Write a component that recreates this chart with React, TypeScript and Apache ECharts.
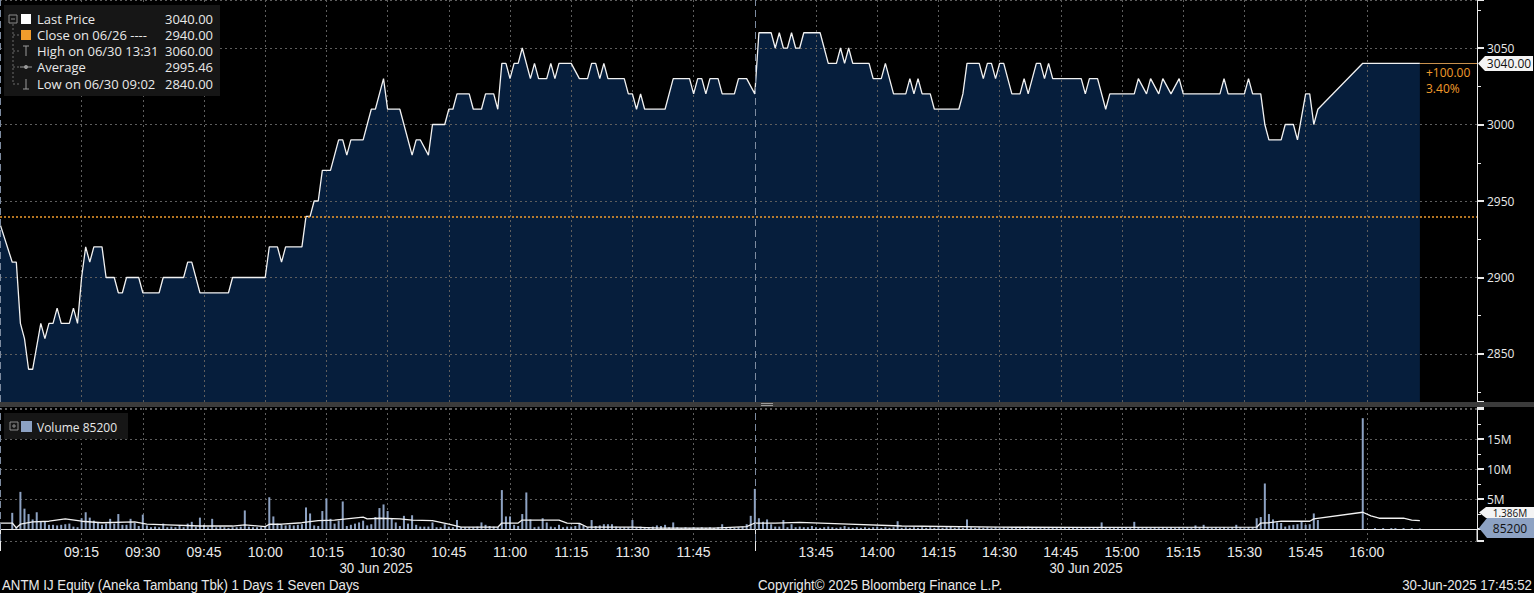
import React, { useEffect, useRef } from "react";
import * as echarts from "echarts";

// ---------- time slots (one per trading minute, lunch break compressed) ----------
const morningStart = 8 * 60 + 55;
const morningEnd = 12 * 60; // exclusive
const afternoonStart = 13 * 60 + 30;
const afternoonEnd = 16 * 60 + 28; // exclusive
const pad = (n: number) => (n < 10 ? "0" + n : String(n));
const hhmm = (m: number) => pad(Math.floor(m / 60)) + ":" + pad(m % 60);
const categories: string[] = [];
for (let m = morningStart; m < morningEnd; m++) categories.push(hhmm(m));
for (let m = afternoonStart; m < afternoonEnd; m++) categories.push(hhmm(m));

const timeTicks = [
  "09:15", "09:30", "09:45", "10:00", "10:15", "10:30", "10:45", "11:00", "11:15", "11:30", "11:45",
  "13:45", "14:00", "14:15", "14:30", "14:45", "15:00", "15:15", "15:30", "15:45", "16:00",
];
const sessionStarts = ["08:55", "13:30"];
const sessionDateLabel = "30 Jun 2025";

// ---------- price (slot index, IDR) ----------
const priceTrace: [number, number][] = [
  [0, 2935], [3, 2910], [4, 2910], [5, 2870], [6, 2860], [7, 2840], [8, 2840], [10, 2870], [11, 2860], [12, 2870],
  [13, 2870], [14, 2880], [15, 2870], [17, 2870], [18, 2880], [19, 2870], [20, 2900], [21, 2920], [22, 2910], [23, 2920],
  [25, 2920], [26, 2900], [28, 2900], [29, 2890], [30, 2890], [31, 2900], [34, 2900], [35, 2890], [39, 2890], [40, 2900],
  [45, 2900], [46, 2910], [47, 2910], [49, 2890], [56, 2890], [57, 2900], [65, 2900], [66, 2920], [68, 2920], [69, 2910],
  [70, 2920], [74, 2920], [75, 2940], [76, 2940], [77, 2950], [78, 2950], [79, 2970], [81, 2970], [82, 2980], [83, 2990],
  [84, 2990], [85, 2980], [86, 2990], [89, 2990], [90, 3000], [91, 3010], [92, 3010], [93, 3020], [94, 3030], [95, 3010],
  [98, 3010], [101, 2980], [102, 2990], [103, 2990], [105, 2980], [106, 3000], [109, 3000], [110, 3010], [111, 3010], [112, 3020],
  [115, 3020], [116, 3010], [118, 3010], [119, 3020], [121, 3020], [122, 3010], [123, 3040], [124, 3040], [125, 3030], [126, 3040],
  [127, 3040], [128, 3050], [130, 3030], [131, 3040], [132, 3030], [134, 3030], [135, 3040], [136, 3030], [137, 3040], [140, 3040],
  [142, 3030], [144, 3030], [145, 3040], [146, 3040], [147, 3030], [148, 3040], [149, 3030], [153, 3030], [154, 3020], [155, 3020],
  [156, 3010], [157, 3020], [158, 3010], [163, 3010], [165, 3030], [169, 3030], [170, 3020], [171, 3030], [172, 3030], [173, 3020],
  [174, 3030], [176, 3030], [177, 3020], [180, 3020], [181, 3030], [183, 3030], [185, 3020], [186, 3060], [189, 3060], [190, 3050],
  [191, 3060], [192, 3050], [193, 3050], [194, 3060], [195, 3050], [196, 3050], [197, 3060], [201, 3060], [203, 3040], [205, 3040],
  [206, 3050], [207, 3040], [208, 3050], [209, 3040], [213, 3040], [214, 3030], [216, 3030], [217, 3040], [219, 3020], [222, 3020],
  [223, 3030], [224, 3020], [225, 3030], [226, 3020], [228, 3020], [229, 3010], [235, 3010], [236, 3020], [237, 3040], [240, 3040],
  [241, 3030], [242, 3040], [243, 3040], [244, 3030], [245, 3040], [246, 3040], [248, 3020], [250, 3020], [251, 3030], [252, 3020],
  [254, 3040], [255, 3040], [256, 3030], [257, 3040], [258, 3030], [265, 3030], [266, 3020], [267, 3030], [269, 3030], [271, 3010],
  [272, 3020], [278, 3020], [279, 3030], [281, 3020], [282, 3030], [284, 3020], [285, 3030], [287, 3020], [289, 3030], [290, 3020],
  [299, 3020], [300, 3030], [301, 3020], [305, 3020], [306, 3030], [307, 3020], [309, 3020], [310, 3000], [311, 2990], [314, 2990],
  [315, 3000], [317, 3000], [318, 2990], [320, 3020], [321, 3020], [322, 3000], [323, 3010], [334, 3040], [348, 3040],
];
const prevClose = 2940;
const lastPrice = 3040;
const legendRows = [
  { label: "Last Price", value: "3040.00" },
  { label: "Close on 06/26 ----", value: "2940.00" },
  { label: "High on 06/30 13:31", value: "3060.00" },
  { label: "Average", value: "2995.46" },
  { label: "Low on 06/30 09:02", value: "2840.00" },
];

// ---------- volume (millions of shares per minute slot) ----------
const volumeM = [
  0, 0, 0, 2.7, 0.3, 6.2, 3.4, 2.5, 1.6, 2.8,
  1.3, 1.2, 0.7, 0.7, 0.6, 0.7, 0.8, 0.9, 0.4, 0.3,
  1.8, 2.8, 1.9, 1.4, 1.1, 0.7, 0.9, 1.7, 0.9, 2.5,
  0.7, 0.7, 1.7, 1.0, 0.5, 2.4, 0.6, 0.3, 0.4, 0.3,
  0.9, 0.3, 0.4, 0.3, 0.5, 0.3, 0.9, 1.2, 0.4, 1.9,
  0.7, 0.3, 1.7, 0.3, 0.4, 0.3, 0.2, 0.3, 0.3, 0.4,
  3.1, 0.4, 0.3, 0.3, 0.3, 0.4, 5.3, 2.1, 0.9, 0.7,
  0.6, 0.7, 0.6, 0.7, 0.8, 3.6, 2.6, 0.6, 0.5, 3.0,
  5.1, 1.7, 0.9, 1.4, 4.6, 0.5, 0.7, 0.9, 1.1, 1.4,
  0.6, 0.8, 2.0, 3.5, 4.1, 3.0, 1.7, 1.1, 0.5, 2.2,
  0.9, 2.3, 0.7, 0.4, 0.4, 0.4, 1.1, 0.3, 0.3, 0.8,
  0.4, 0.3, 1.5, 0.3, 0.3, 0.3, 0.3, 0.4, 1.1, 0.7,
  0.5, 0.4, 0.3, 6.5, 2.1, 2.1, 0.7, 0.5, 2.5, 6.1,
  1.6, 0.3, 0.4, 1.8, 1.1, 0.4, 0.3, 0.7, 0.3, 0.4,
  0.4, 0.5, 1.0, 0.5, 0.3, 1.5, 0.5, 0.6, 0.8, 0.8,
  0.8, 0.4, 0.3, 0.3, 0.3, 1.5, 0.3, 0.4, 0.3, 0.3,
  0.4, 0.6, 0.5, 0.7, 0.3, 1.1, 0.3, 0.2, 0.3, 0.2,
  0.3, 0.2, 0.3, 0.2, 0.3, 0.2, 0.3, 0.8, 0.2, 0.3,
  0.2, 0.3, 0.4, 0.8, 2.2, 6.7, 1.8, 1.2, 1.6, 0.8,
  0.4, 0.4, 1.5, 0.3, 0.8, 0.3, 0.4, 0.3, 0.3, 0.5,
  0.3, 0.2, 0.3, 0.4, 0.3, 0.2, 0.3, 0.5, 0.3, 0.2,
  0.3, 0.2, 0.3, 0.2, 0.3, 0.4, 0.2, 0.3, 0.2, 0.3,
  1.3, 0.2, 0.3, 0.2, 0.3, 0.2, 0.3, 0.2, 0.3, 0.2,
  0.3, 0.2, 0.3, 0.4, 0.2, 0.3, 0.2, 1.6, 0.3, 0.2,
  0.3, 0.2, 0.3, 0.2, 0.3, 0.2, 0.3, 0.2, 0.3, 0.2,
  0.3, 0.2, 0.4, 0.2, 0.3, 0.2, 0.3, 0.2, 0.3, 0.2,
  0.3, 0.2, 0.3, 0.2, 0.3, 0.2, 0.3, 0.3, 0.2, 0.3,
  1.1, 0.3, 0.3, 0.2, 0.3, 0.2, 0.3, 0.2, 1.2, 0.3,
  0.2, 0.3, 0.2, 0.3, 0.2, 0.3, 0.2, 0.3, 0.2, 0.3,
  0.2, 0.3, 0.2, 0.6, 0.3, 0.7, 0.3, 0.2, 0.3, 0.2,
  0.3, 0.2, 0.3, 0.7, 0.3, 0.2, 0.3, 0.3, 1.8, 2.0,
  7.6, 2.5, 1.6, 1.1, 1.0, 0.4, 0.6, 0.7, 0.8, 1.2,
  0.7, 0.8, 2.6, 1.5, 0, 0, 0, 0, 0, 0,
  0, 0, 0, 0, 18.5, 0, 0, 0.15, 0, 0.15,
  0, 0.15, 0.15, 0, 0.15, 0, 0.15, 0, 0.0852,
];
const volumeAvg: [number, number][] = [
  [0, 1.0], [3, 1.0], [4, 0.2], [5, 0.8], [8, 1.2], [12, 1.3], [16, 1.7], [20, 1.3], [25, 1.05], [33, 1.2],
  [36, 0.8], [41, 0.7], [49, 0.5], [57, 0.5], [60, 0.7], [65, 0.4], [66, 0.8], [69, 0.8], [74, 1.05], [78, 1.4],
  [82, 1.5], [89, 2.0], [90, 1.7], [93, 1.8], [98, 1.7], [101, 1.5], [106, 1.4], [110, 0.8], [113, 0.3], [122, 0.3],
  [123, 1.0], [127, 1.0], [128, 1.5], [137, 1.5], [139, 1.0], [142, 0.95], [144, 0.3], [155, 0.3], [162, 0.15], [175, 0.15],
  [183, 0.4], [185, 1.0], [190, 1.0], [196, 1.1], [208, 0.8], [221, 0.5], [245, 0.3], [265, 0.28], [308, 0.3], [309, 1.0],
  [311, 1.05], [314, 1.3], [321, 1.3], [322, 1.7], [334, 2.8], [336, 2.2], [338, 1.8], [344, 1.8], [346, 1.5], [348, 1.39],
];
const lastVolume = "85200";
const avgVolumeLabel = "1.386M";

// ---------- styling ----------
const UI = '"Open Sans", "DejaVu Sans", sans-serif';
const SANS = '"Liberation Sans", Arial, sans-serif';
const WHITE = "#e9e9e9";
const ORANGE = "#f19c2c";
const VOL = "#8da2c3";
const FILL = "#061e3c";
const GRIDC = "#5e5e5e";
const SESSION = "#7d8ba0";
const NARROW_SCALE = 0.885;

const isTimeTick = (_i: number, v: string) => timeTicks.includes(v);
const isSession = (_i: number, v: string) => sessionStarts.includes(v);

const txt = (text: string, x: number, y: number, font: string, fill = WHITE, align = "left", scaleX = 1) => ({
  type: "text", x, y, z: 100, scaleX,
  style: { text, fill, font, textAlign: align, align, textVerticalAlign: "middle", verticalAlign: "middle" },
});
const narrow = (text: string, x: number, y: number, align = "left") =>
  txt(text, x, y, `15px ${SANS}`, WHITE, align, NARROW_SCALE);
const rect = (x: number, y: number, w: number, h: number, fill: string, extra: any = {}) => ({
  type: "rect", z: 99, shape: { x, y, width: w, height: h }, style: { fill, ...extra },
});
const seg = (x1: number, y1: number, x2: number, y2: number, stroke: string, dash?: number[]) => ({
  type: "line", z: 100, shape: { x1, y1, x2, y2 }, style: { stroke, lineWidth: 1, lineDash: dash },
});

function buildGraphic() {
  const g: any[] = [];
  // price legend
  g.push(rect(4, 5, 216, 91, "#161616"));
  const rowsY = [19, 35, 51, 67, 84];
  legendRows.forEach((r, i) => {
    g.push(txt(r.label, 37, rowsY[i], `13px ${UI}`));
    g.push(txt(r.value, 213, rowsY[i], `13px ${UI}`, WHITE, "right"));
  });
  g.push(rect(9, 15, 8, 8, "none", { stroke: "#8a8a8a", lineWidth: 1 }));
  g.push(seg(11, 19, 15, 19, "#8a8a8a"));
  g.push(seg(13, 24, 13, 84, "#6a6a6a", [2, 2]));
  [35, 51, 67, 84].forEach((y) => g.push(seg(13, y, 19, y, "#6a6a6a", [2, 2])));
  g.push(rect(21, 14, 10, 10, "#ffffff"));
  g.push(rect(21, 30, 10, 10, ORANGE));
  g.push(seg(23, 46, 29, 46, "#9a9a9a"));
  g.push(seg(26, 46, 26, 56, "#9a9a9a"));
  g.push(seg(20, 67, 32, 67, "#9a9a9a"));
  g.push({ type: "circle", z: 100, shape: { cx: 26, cy: 67, r: 2 }, style: { fill: "#9a9a9a" } });
  g.push(seg(26, 79, 26, 89, "#9a9a9a"));
  g.push(seg(23, 89, 29, 89, "#9a9a9a"));

  // volume legend
  g.push(rect(4, 413, 124, 26, "#161616"));
  g.push(rect(10, 422, 8, 8, "none", { stroke: "#8a8a8a", lineWidth: 1 }));
  g.push(seg(12, 426, 16, 426, "#8a8a8a"));
  g.push(seg(14, 424, 14, 428, "#8a8a8a"));
  g.push(rect(21, 421, 11, 11, VOL));
  g.push(txt("Volume " + lastVolume, 37, 427, `12px ${UI}`));

  // panel separator
  g.push(rect(0, 402, 1534, 5, "#3b3b3b"));
  g.push(rect(761, 403, 12, 1, "#9a9a9a"));
  g.push(rect(761, 405, 12, 1, "#9a9a9a"));
  g.push(seg(1477, 529, 1477, 541, WHITE));

  // last price tag
  g.push({ type: "polygon", z: 100, shape: { points: [[1478, 63.5], [1485, 56], [1533, 56], [1533, 71], [1485, 71]] }, style: { fill: "#f4f4f4" } });
  g.push(txt(lastPrice.toFixed(2), 1509, 63.5, `12px ${UI}`, "#111111", "center"));
  g.push(txt("+" + (lastPrice - prevClose).toFixed(2), 1426, 72, `12px ${UI}`, ORANGE));
  g.push(txt(((lastPrice - prevClose) / prevClose * 100).toFixed(2) + "%", 1426, 88, `12px ${UI}`, ORANGE));

  // volume tags (average tag sits just above the last-volume tag)
  g.push({ type: "polygon", z: 100, shape: { points: [[1479, 512.5], [1486, 507], [1534, 507], [1534, 518], [1486, 518]] }, style: { fill: "#f4f4f4" } });
  g.push(txt(avgVolumeLabel, 1510, 512.5, `10px ${UI}`, "#111111", "center"));
  g.push({ type: "polygon", z: 101, shape: { points: [[1479, 528], [1487, 518], [1534, 518], [1534, 538], [1487, 538]] }, style: { fill: VOL } });
  g.push({ ...txt(lastVolume, 1510, 528.5, `12px ${UI}`, "#111111", "center"), z: 102 });

  // date line and footer
  g.push(narrow(sessionDateLabel, 376, 568, "center"));
  g.push(narrow(sessionDateLabel, 1086, 568, "center"));
  g.push(narrow("ANTM IJ Equity (Aneka Tambang Tbk) 1 Days 1 Seven Days", 2, 585));
  g.push(narrow("Copyright\u00a9 2025 Bloomberg Finance L.P.", 758, 585));
  g.push(narrow("30-Jun-2025 17:45:52", 1532, 585, "right"));
  return g;
}

const sessionLines = sessionStarts.map((s) => ({ xAxis: s, lineStyle: { color: SESSION, type: [7, 4], width: 1 } }));

const option: any = {
  animation: false,
  backgroundColor: "#000000",
  grid: [
    { left: 0, right: 57, top: 0, height: 402 },
    { left: 0, right: 57, top: 408, height: 133 },
  ],
  xAxis: [
    {
      type: "category", gridIndex: 0, data: categories, boundaryGap: false, z: 3,
      axisLine: { show: false }, axisTick: { show: false }, axisLabel: { show: false },
      splitLine: { show: true, interval: isTimeTick, lineStyle: { color: GRIDC, type: [2, 3], width: 1 } },
    },
    {
      type: "category", gridIndex: 1, data: categories, boundaryGap: false,
      axisLine: { show: true, lineStyle: { color: WHITE, width: 1 } },
      axisTick: { show: true, interval: isSession, length: 22, lineStyle: { color: WHITE } },
      axisLabel: { show: true, interval: isTimeTick, color: WHITE, fontFamily: SANS, fontSize: 14, margin: 4 },
      splitLine: { show: true, interval: isTimeTick, lineStyle: { color: GRIDC, type: [2, 3], width: 1 } },
    },
  ],
  yAxis: [
    {
      type: "value", gridIndex: 0, position: "right", min: 2818.6, max: 3081.4, splitNumber: 5, z: 3,
      axisLine: { show: true, lineStyle: { color: WHITE } },
      axisTick: { show: true, length: 7, lineStyle: { color: WHITE, width: 2 } },
      minorTick: { show: true, splitNumber: 2, length: 4, lineStyle: { color: WHITE } },
      axisLabel: {
        color: WHITE, fontFamily: UI, fontSize: 12, margin: 10, showMinLabel: false, showMaxLabel: false,
        formatter: (v: number) => (v % 50 === 0 ? String(v) : ""),
      },
      splitLine: { show: true, lineStyle: { color: GRIDC, type: [2, 3] } },
    },
    {
      type: "value", gridIndex: 1, position: "right", min: -2, max: 20.2, splitNumber: 5,
      axisLine: { show: true, lineStyle: { color: WHITE } },
      axisTick: { show: true, length: 7, lineStyle: { color: WHITE, width: 2 } },
      minorTick: { show: true, splitNumber: 2, length: 4, lineStyle: { color: WHITE } },
      axisLabel: {
        color: WHITE, fontFamily: UI, fontSize: 12, margin: 10,
        formatter: (v: number) => (v === 5 || v === 10 || v === 15 ? v + "M" : ""),
      },
      splitLine: { show: true, lineStyle: { color: GRIDC, type: [2, 3] } },
    },
  ],
  series: [
    {
      name: "price-area", type: "line", xAxisIndex: 0, yAxisIndex: 0, data: priceTrace, z: 2,
      showSymbol: false, lineStyle: { width: 0 }, areaStyle: { color: FILL, opacity: 1, origin: "start" },
      markLine: {
        silent: true, symbol: ["none", "none"], label: { show: false }, z: 5,
        data: [
          { yAxis: prevClose, lineStyle: { color: ORANGE, type: [2, 2], width: 1.6 } },
          ...sessionLines,
          [
            { coord: [categories[priceTrace[priceTrace.length - 1][0]], lastPrice], lineStyle: { color: "#c9924f", type: "solid", width: 1 } },
            { coord: [categories[categories.length - 1], lastPrice] },
          ],
        ],
      },
    },
    {
      name: "Last Price", type: "line", xAxisIndex: 0, yAxisIndex: 0, data: priceTrace, z: 4,
      showSymbol: false, lineStyle: { color: "#f2f2f2", width: 1.3 },
    },
    {
      name: "Volume", type: "bar", xAxisIndex: 1, yAxisIndex: 1, data: volumeM, barWidth: 2,
      itemStyle: { color: VOL },
      markLine: { silent: true, symbol: ["none", "none"], label: { show: false }, data: sessionLines },
    },
    {
      name: "Volume avg", type: "line", xAxisIndex: 1, yAxisIndex: 1, data: volumeAvg, z: 4,
      showSymbol: false, lineStyle: { color: "#f2f2f2", width: 1.3 },
    },
  ],
  graphic: buildGraphic(),
};

export default function App() {
  const ref = useRef<HTMLDivElement>(null);
  useEffect(() => {
    const chart = echarts.init(ref.current as HTMLDivElement, null, { renderer: "svg" });
    chart.setOption(option);
    return () => chart.dispose();
  }, []);
  return (
    <div
      ref={ref}
      style={{ position: "fixed", left: 0, top: 0, width: 1534, height: 593, background: "#000" }}
    />
  );
}
